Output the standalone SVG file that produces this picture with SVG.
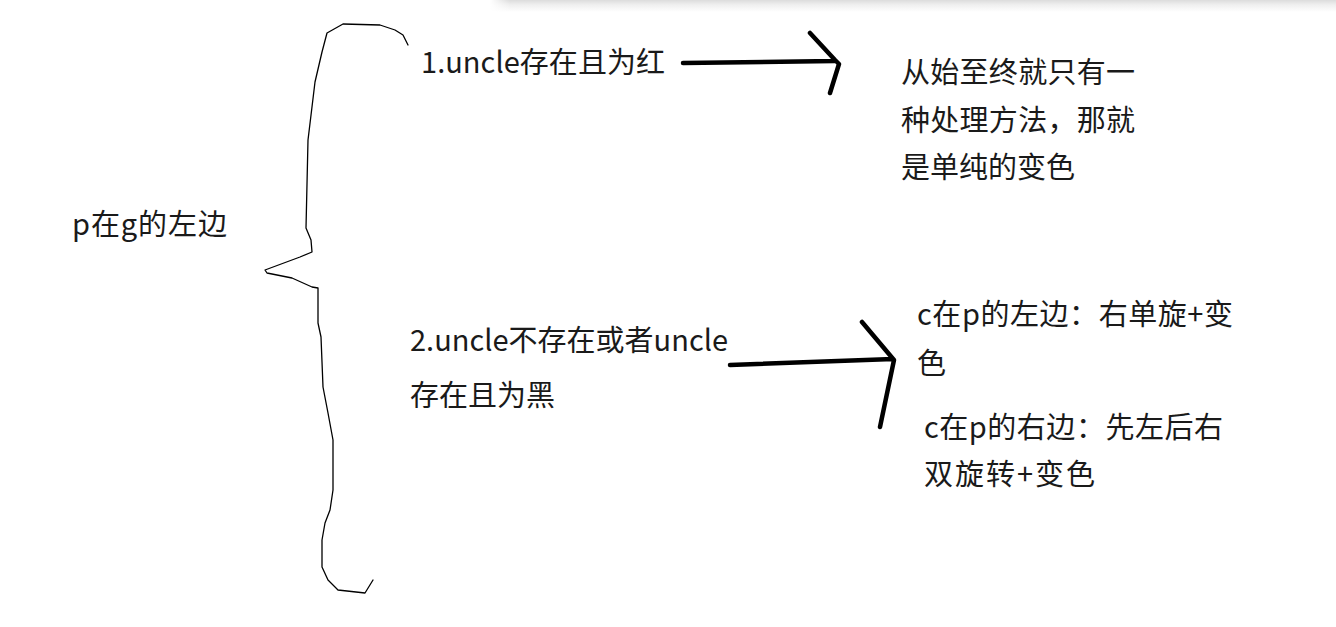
<svg xmlns="http://www.w3.org/2000/svg" width="1336" height="627" viewBox="0 0 1336 627">
<defs>
<linearGradient id="shadow" x1="0" y1="0" x2="0" y2="1">
<stop offset="0" stop-color="#dcdcdc"/>
<stop offset="0.4" stop-color="#efefef"/>
<stop offset="1" stop-color="#ffffff"/>
</linearGradient>
<linearGradient id="shadowL" x1="0" y1="0" x2="1" y2="0">
<stop offset="0" stop-color="#ffffff" stop-opacity="1"/>
<stop offset="1" stop-color="#ffffff" stop-opacity="0"/>
</linearGradient>
</defs>
<style>
.t{font-family:"Noto Sans CJK SC","Microsoft YaHei",sans-serif;font-size:29px;fill:#1a1a1a;}
.brace{fill:none;stroke:#000;stroke-width:1.3;stroke-linejoin:round;stroke-linecap:round;}
.arrow{fill:none;stroke:#000;stroke-width:4.5;stroke-linecap:round;stroke-linejoin:round;}
</style>
<rect width="1336" height="627" fill="#fff"/>
<rect x="490" y="0" width="846" height="12" fill="url(#shadow)"/>
<rect x="490" y="0" width="20" height="12" fill="url(#shadowL)"/>

<g id="root">
<text class="t" x="72" y="235" textLength="155" lengthAdjust="spacing">p在g的左边</text>
</g>

<g id="brace">
<path class="brace" d="M408,45 L403,35 L395,30 L380,25 L343,24 L327,33 L322,52 L315,82 L308,140 L306,228 L311,240 L312,252 L300,257 L265,270 L267,273 L292,278 L312,287 L318,288 L318,323 L321,337 L323,387 L328,413 L333,440 L333,490 L330,510 L325,523 L322,540 L322,567 L328,580 L338,590 L365,593 L373,580"/>
</g>

<g id="case1">
<text class="t" x="421" y="73" textLength="244" lengthAdjust="spacing">1.uncle存在且为红</text>
</g>

<g id="case2">
<text class="t" x="410" y="351" textLength="318" lengthAdjust="spacing">2.uncle不存在或者uncle</text>
<text class="t" x="410" y="406">存在且为黑</text>
</g>

<g id="result1">
<text class="t" x="901" y="83" textLength="234" lengthAdjust="spacing">从始至终就只有一</text>
<text class="t" x="901" y="131" textLength="234" lengthAdjust="spacing">种处理方法，那就</text>
<text class="t" x="901" y="178">是单纯的变色</text>
</g>

<g id="result2a">
<text class="t" x="917" y="325" textLength="316" lengthAdjust="spacing">c在p的左边：右单旋+变</text>
<text class="t" x="917" y="374">色</text>
</g>

<g id="result2b">
<text class="t" x="924" y="438" textLength="299" lengthAdjust="spacing">c在p的右边：先左后右</text>
<text class="t" x="924" y="485" textLength="171" lengthAdjust="spacing">双旋转+变色</text>
</g>

<g id="connectors">
<path class="arrow" d="M683,63 L835,61 M810,33 L835,60 L839,64 L830,93"/>
<path class="arrow" d="M730,365 L893,359 M862,322 L894,360 L880,427"/>
</g>
</svg>
